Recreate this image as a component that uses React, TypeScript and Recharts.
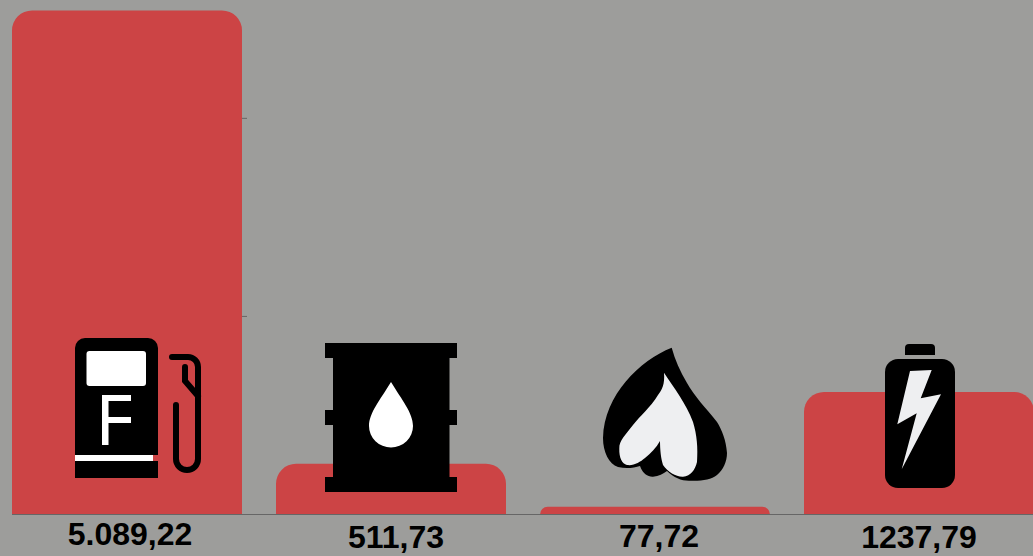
import * as React from "react";
import { BarChart, Bar, XAxis, YAxis } from "recharts";

const priceLabels = ["5.089,22", "511,73", "77,72", "1237,79"];
const priceValues = [5089.22, 511.73, 77.72, 1237.79];
const yTicks = [0, 2000, 4000];

// the labels are not quite centred under their bars in the original
const labelNudgeX = [3, 5, 4, 0];
const labelBaseline = [545, 548, 547, 548];

const chartData = priceLabels.map((label, i) => ({
  label,
  value: priceValues[i],
}));

const BACKGROUND = "#9d9d9b";
const BAR_RED = "#cc4445";
const AXIS_GREY = "#666666";
const ICON_WHITE = "#eeeff1";
const BAR_RADIUS = 20;

const PriceTick = (props: any) => {
  const { x, payload, index } = props;
  return (
    <text
      x={x + labelNudgeX[index]}
      y={labelBaseline[index]}
      textAnchor="middle"
      fontFamily="'Liberation Sans', sans-serif"
      fontWeight="bold"
      fontSize={32}
      fill="#000000"
    >
      {payload.value}
    </text>
  );
};

// the y ticks only show as a small stub on the right of the first bar
const StubTick = (props: any) => {
  const { y } = props;
  return <line x1={242} x2={247} y1={y} y2={y} stroke={AXIS_GREY} />;
};

// recharts halves the radius on short bars, the original keeps it up to the bar height
const RoundedBar = (props: any) => {
  const { x, y, width, height } = props;
  const r = Math.min(BAR_RADIUS, height);
  return (
    <path
      d={`M${x} ${y + height} V${y + r} A${r} ${r} 0 0 1 ${x + r} ${y} H${x + width - r} A${r} ${r} 0 0 1 ${x + width} ${y + r} V${y + height} Z`}
      fill={BAR_RED}
    />
  );
};

// fuel pump, barrel, flame and battery that sit on top of the bars
function Icons() {
  return (
    <svg
      width={1033}
      height={556}
      style={{ position: "absolute", left: 0, top: 0, pointerEvents: "none" }}
    >
      {/* pump */}
      <path d="M75 478 V348 A10 10 0 0 1 85 338 H148 A10 10 0 0 1 158 348 V478 Z" fill="#000" />
      <rect x={153} y={455} width={5} height={6} fill={BAR_RED} />
      <rect x={75} y={455} width={78} height={6} fill="#fff" />
      <rect x={86.5} y={351} width={59.5} height={35} rx={3} fill="#fff" />
      <path d="M102 445 V395 H131 V401 H108.5 V417 H131 V423 H108.5 V445 Z" fill="#fff" />
      <path
        d="M172 357 H188 A10 10 0 0 1 198 367 V459 A11 11 0 0 1 176 459 V405"
        fill="none"
        stroke="#000"
        strokeWidth={6}
        strokeLinecap="round"
      />
      <path d="M185 367 V381 L198 396" fill="none" stroke="#000" strokeWidth={6} strokeLinecap="round" />

      {/* barrel */}
      <path
        d="M325 343 H457 V358 H449.5 V410 H457 V425 H449.5 V477 H457 V492 H325 V477 H333 V425 H325 V410 H333 V358 H325 Z"
        fill="#000"
      />
      <path d="M391 382 C380 400 369 413 369 426 A22 21.5 0 0 0 413 426 C413 413 402 400 391 382 Z" fill="#fff" />

      {/* flame */}
      <path
        d="M671.7 347.7 C640 360 604 395 603 438 C603 452 609 464 618 467 C626 469 634 468 640 466 C643 474 648 477 653 476.7 C659 476 663 474 667 471 C674 478 682 481 690 480.7 C702 481 711 480 717 475 C723 470 727 462 727 453 C726 440 722 430 717 422 C706 408 694 396 687 383 C680 371 675 360 671.7 347.7 Z"
        fill="#000"
      />
      <path
        d="M664 372.7 C665 384 662 390 658 395 C650 408 640 416 633 425 C626 434 619 441 619.3 448.3 C619 458 622 464 627 465 C634 466 640 462 645 458 C651 453 656 448 660 441 C660 450 661 459 663 465 C668 472 676 477 683 476.7 C691 476 695 470 697 462 C698 448 697 435 693 422 C686 403 674 388 664 372.7 Z"
        fill={ICON_WHITE}
      />

      {/* battery */}
      <path d="M905 355 V348 A4 4 0 0 1 909 344 H931 A4 4 0 0 1 935 348 V355 Z" fill="#000" />
      <rect x={885} y={359} width={70} height={129} rx={13} fill="#000" />
      <path d="M910 371 L931.7 370 L920.7 398.3 L941 394.3 L901.7 469.3 L916.7 413.3 L897.3 424.3 Z" fill={ICON_WHITE} />
    </svg>
  );
}

export default function App() {
  return (
    <div
      style={{
        position: "absolute",
        left: 0,
        top: 0,
        width: 1033,
        height: 556,
        overflow: "hidden",
        background: BACKGROUND,
      }}
    >
      <BarChart
        width={1033}
        height={556}
        data={chartData}
        barCategoryGap={17}
        margin={{ top: 0, right: 0, bottom: 0, left: 11 }}
      >
        <XAxis
          dataKey="label"
          height={41.5}
          interval={0}
          padding={{ left: -17, right: -18 }}
          axisLine={{ stroke: AXIS_GREY }}
          tickLine={false}
          tick={<PriceTick />}
        />
        <YAxis
          width={1}
          domain={[0, 5195]}
          ticks={yTicks}
          interval={0}
          axisLine={false}
          tickLine={false}
          tick={<StubTick />}
        />
        <Bar dataKey="value" shape={<RoundedBar />} isAnimationActive={false} />
      </BarChart>
      <Icons />
    </div>
  );
}
